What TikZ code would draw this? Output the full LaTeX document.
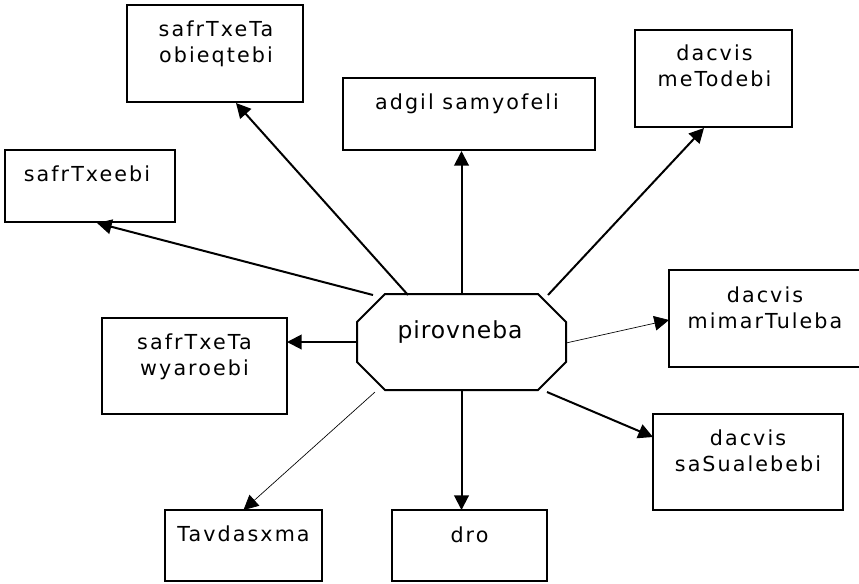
\documentclass[tikz,border=0pt]{standalone}
\usepackage{fontspec}
\setmainfont{DejaVu Sans}
\newfontfamily\labfont[LetterSpace=10]{DejaVu Sans}
\newfontfamily\mainlabfont[LetterSpace=4]{DejaVu Sans}
\usetikzlibrary{arrows.meta,calc}
\begin{document}
\begin{tikzpicture}[x=0.75pt,y=-0.75pt,
  box/.style={draw, line width=1.5pt, inner sep=0pt, outer sep=0pt, anchor=north west, rectangle},
  lab/.style={anchor=north, inner sep=0pt, align=center, font=\labfont\fontsize{15.5}{19.2}\selectfont},
  arr/.style={line width=1.5pt, -{Triangle[length=11pt,width=11pt]}},
  thinarr/.style={line width=0.5pt, -{Triangle[length=11pt,width=11pt]}}]
\useasboundingbox (0,0) rectangle (859,583);
\clip (0,0) rectangle (859,583);

% boxes
\node[box, minimum width=132pt,    minimum height=72.75pt] (obj) at (127,5) {};
\node[box, minimum width=127.5pt,  minimum height=54pt]    (sfx) at (5,150) {};
\node[box, minimum width=189pt,    minimum height=54pt]    (adg) at (343,78) {};
\node[box, minimum width=117.75pt, minimum height=72.75pt] (met) at (635,30) {};
\node[box, minimum width=144pt,    minimum height=72.75pt] (mim) at (669,270) {};
\node[box, minimum width=142.5pt,  minimum height=72pt]    (sas) at (653,414) {};
\node[box, minimum width=138.75pt, minimum height=72pt]    (wya) at (102,318) {};
\node[box, minimum width=117.75pt, minimum height=53.25pt] (tav) at (165,510) {};
\node[box, minimum width=116.25pt, minimum height=53.25pt] (dro) at (392,510) {};

% labels
\node[lab] (objt) at ($(obj.north)+(1,15.5)$) {safrTxeTa\\obieqtebi};
\node[lab] (sfxt) at ($(sfx.north)+(-3,15.5)$) {safrTxeebi};
\node[lab] (adgt) at ($(adg.north)+(-2,15.5)$) {adgil samyofeli};
\node[lab] (mett) at ($(met.north)+(1,14.5)$) {dacvis\\meTodebi};
\node[lab] (mimt) at ($(mim.north)+(0,16.5)$) {dacvis\\mimarTuleba};
\node[lab] (sast) at ($(sas.north)+(0,15.5)$) {dacvis\\saSualebebi};
\node[lab] (wyat) at ($(wya.north)+(0,15.5)$) {safrTxeTa\\wyaroebi};
\node[lab] (tavt) at ($(tav.north)+(0,15.5)$) {Tavdasxma};
\node[lab] (drot) at ($(dro.north)+(0,16.5)$) {dro};

% octagon
\node[inner sep=0pt, outer sep=0pt, minimum width=156.75pt, minimum height=72pt] (oct) at (461.5,342) {};
\draw[line width=1.5pt] ($(oct.north west)+(28,0)$) -- ($(oct.north east)+(-28,0)$)
  -- ($(oct.north east)+(0,28)$) -- ($(oct.south east)+(0,-28)$)
  -- ($(oct.south east)+(-28,0)$) -- ($(oct.south west)+(28,0)$)
  -- ($(oct.south west)+(0,-28)$) -- ($(oct.north west)+(0,28)$) -- cycle;
\node[anchor=north, inner sep=0pt, font=\mainlabfont\fontsize{17.6}{21}\selectfont] (pirt) at ($(oct.north)+(-1.5,26)$) {pirovneba};

% connector ends
\coordinate (s1) at ($(oct.north)+(-53.5,1)$);
\coordinate (s2) at ($(oct.north)+(-88.5,1)$);
\coordinate (s4) at ($(oct.north)+(86.5,1)$);
\coordinate (s5) at ($(oct.east)+(0,1)$);
\coordinate (s6) at ($(oct.south)+(85.5,2)$);
\coordinate (s8) at ($(oct.south)+(-86.5,2)$);
\coordinate (e1) at ($(obj.south)+(21,1)$);
\coordinate (e2) at ($(sfx.south)+(7,1)$);
\coordinate (e3) at ($(adg.south)+(-7.5,1)$);
\coordinate (e4) at ($(met.south)+(-9.5,1)$);
\coordinate (e5) at ($(mim.west)+(0,1.5)$);
\coordinate (e6) at ($(sas.west)+(0,-25)$);
\coordinate (e7) at ($(dro.north)+(-8,0)$);
\coordinate (e9) at ($(wya.east)+(0,-24)$);

% connectors
\draw[arr] (s1) -- (e1);
\draw[arr] (s2) -- (e2);
\draw[arr] (oct.north) -- (e3);
\draw[arr] (s4) -- (e4);
\draw[thinarr] (s5) -- (e5);
\draw[arr] (s6) -- (e6);
\draw[arr] (oct.south) -- (e7);
\draw[thinarr] (s8) -- (tav.north);
\draw[arr] (oct.west) -- (e9);
\end{tikzpicture}
\end{document}
